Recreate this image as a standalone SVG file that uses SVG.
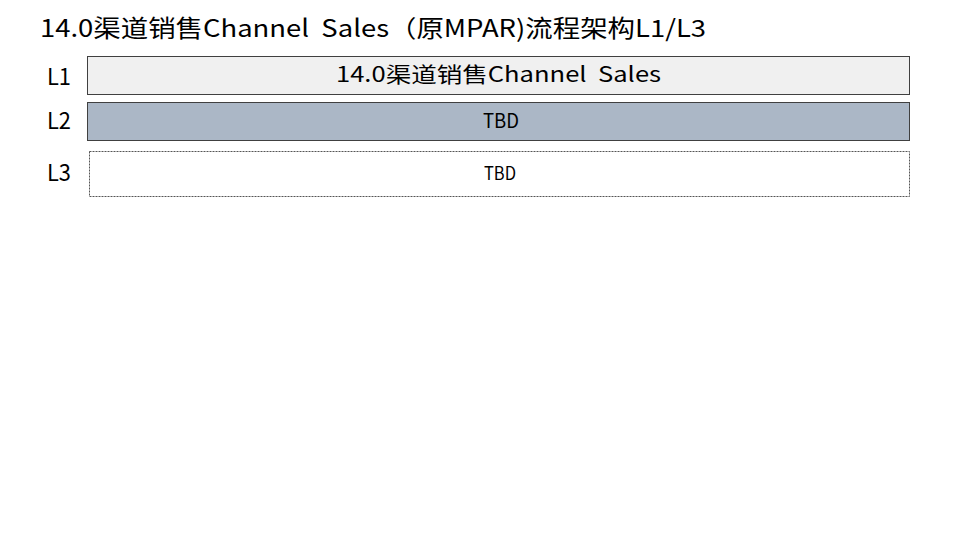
<svg xmlns="http://www.w3.org/2000/svg" width="960" height="540" viewBox="0 0 960 540">
<style>
text{font-family:"Noto Sans CJK SC","Noto Sans",sans-serif;fill:#000;white-space:pre}
.lbl{font-size:23px}
.box{stroke:#404040;stroke-width:1}
</style>
<rect width="960" height="540" fill="#fff"/>
<text x="40" y="37" font-size="24" textLength="666" lengthAdjust="spacingAndGlyphs" xml:space="preserve">14.0渠道销售Channel  Sales（原MPAR)流程架构L1/L3</text>
<text class="lbl" x="47" y="85" textLength="24" lengthAdjust="spacingAndGlyphs">L1</text>
<text class="lbl" x="47" y="129" textLength="24" lengthAdjust="spacingAndGlyphs">L2</text>
<text class="lbl" x="47" y="181" textLength="24" lengthAdjust="spacingAndGlyphs">L3</text>
<g id="l1">
<rect class="box" x="87.5" y="56.5" width="822" height="38" fill="#f0f0f0"/>
<text x="498.5" y="82" font-size="21" text-anchor="middle" textLength="325" lengthAdjust="spacingAndGlyphs" xml:space="preserve">14.0渠道销售Channel  Sales</text>
</g>
<g id="l2">
<rect class="box" x="87.5" y="102.5" width="822" height="38" fill="#abb7c6"/>
<text x="501" y="128" font-size="20" text-anchor="middle" textLength="36" lengthAdjust="spacingAndGlyphs">TBD</text>
</g>
<g id="l3">
<rect x="89.5" y="151.5" width="820" height="45" fill="#fff" stroke="#555" stroke-width="1" stroke-dasharray="2,1"/>
<text x="500" y="180" font-size="18" text-anchor="middle" textLength="32" lengthAdjust="spacingAndGlyphs">TBD</text>
</g>
<g id="connectors"/>
</svg>
